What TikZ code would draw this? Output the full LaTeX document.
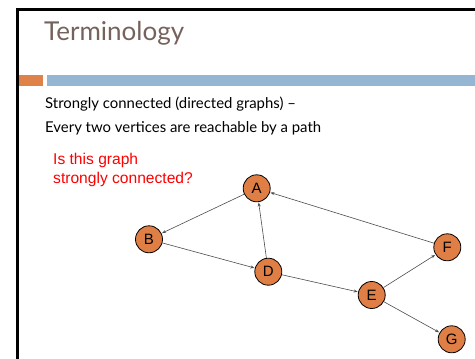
\documentclass[tikz,border=0pt]{standalone}
\usepackage{fontspec}
\setmainfont{Lato}
\newfontfamily\arialf{Liberation Sans}
\usetikzlibrary{arrows.meta}
\definecolor{titlec}{HTML}{76625C}
\definecolor{orangec}{HTML}{DE8249}
\definecolor{bluec}{HTML}{94B6D2}
\definecolor{nodec}{HTML}{DF7E45}
\definecolor{redc}{HTML}{FF0000}
\begin{document}
\begin{tikzpicture}[x=1pt,y=-1pt,
  vtx/.style={circle,draw=black,line width=0.8pt,fill=nodec,minimum size=27pt,inner sep=0pt,font=\arialf\fontsize{15}{15}\selectfont},
  edge/.style={draw=black!70,line width=0.6pt,-{Stealth[length=4pt,width=3pt]},shorten >=0.5pt},
  bodytext/.style={anchor=base west,inner sep=0pt,font=\fontsize{14.9}{14.9}\selectfont},
  redtext/.style={anchor=base west,inner sep=0pt,text=redc,font=\arialf\fontsize{15.6}{15.6}\selectfont}]
\useasboundingbox (0,0) rectangle (475,359);
\clip (0,0) rectangle (475,359);
% frame
\draw[line width=2.7pt,black] (17.5,400) -- (17.5,9.5) -- (500,9.5);
% title
\node[anchor=base west,inner sep=0pt,text=titlec,font=\fontsize{26}{26}\selectfont] (title) at (44,40) {Terminology};
% bars
\fill[orangec] (19,75) rectangle (43,86);
\fill[bluec] (47,75) rectangle (476,86);
% body
\node[bodytext] (l1) at (45,108) {Strongly connected (directed graphs) –};
\node[bodytext] (l2) at (45,132) {Every two vertices are reachable by a path};
\node[redtext] (q1) at (53,164.5) {Is this graph};
\node[redtext] (q2) at (53,183.5) {strongly connected?};
% nodes
\node[vtx] (A) at (256.7,188.3) {A};
\node[vtx] (B) at (149,239.3) {B};
\node[vtx] (D) at (268.3,271.7) {D};
\node[vtx] (E) at (371.7,295) {E};
\node[vtx] (F) at (447.3,247.3) {F};
\node[vtx] (G) at (451.7,339.3) {G};
% edges
\draw[edge] (A) -- (B);
\draw[edge] (B) -- (D);
\draw[edge] (D) -- (A);
\draw[edge] (D) -- (E);
\draw[edge] (E) -- (F);
\draw[edge] (F) -- (A);
\draw[edge] (E) -- (G);
\end{tikzpicture}
\end{document}
